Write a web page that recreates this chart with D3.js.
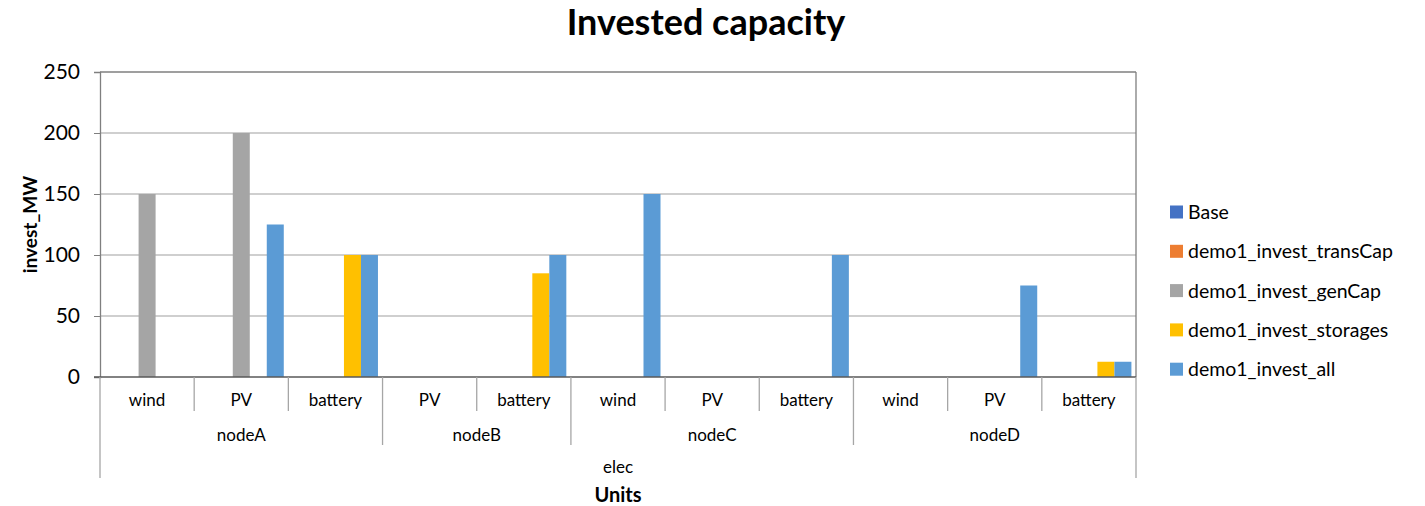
<!DOCTYPE html>
<html><head><meta charset="utf-8">
<script src="https://cdn.jsdelivr.net/npm/d3@7"></script>
<style>body{margin:0;background:#fff;} text{font-family:Lato,"Open Sans",sans-serif;fill:#000;}</style>
</head><body>
<svg id="c" width="1425" height="506"></svg>
<script>
const categories = ["wind","PV","battery","PV","battery","wind","PV","battery","wind","PV","battery"];
const nodes = [{name:"nodeA",count:3},{name:"nodeB",count:2},{name:"nodeC",count:3},{name:"nodeD",count:3}];
const topGroup = "elec";
const seriesNames = ["Base","demo1_invest_transCap","demo1_invest_genCap","demo1_invest_storages","demo1_invest_all"];
const colors = ["#4472c4","#ed7d31","#a5a5a5","#ffc000","#5b9bd5"];
const base      = [0,0,0,0,0,0,0,0,0,0,0];
const transCap  = [0,0,0,0,0,0,0,0,0,0,0];
const genCap    = [150,200,0,0,0,0,0,0,0,0,0];
const storages  = [0,0,100,0,85,0,0,0,0,0,12.5];
const investAll = [0,125,100,0,100,150,0,100,0,75,12.5];
const yTicks = [0,50,100,150,200,250];

const values = [base,transCap,genCap,storages,investAll];
const svg = d3.select("#c");
const L=100, R=1136, T=72, B=377;
const idx = d3.range(categories.length);
const x = d3.scaleBand().domain(idx).range([L,R]).padding(0);
const xs = d3.scaleBand().domain(d3.range(seriesNames.length)).range([0,x.bandwidth()]).paddingInner(0).paddingOuter(0.27);
const y = d3.scaleLinear().domain([0,250]).range([B,T]);

// gridlines
svg.append("g").selectAll("line").data(yTicks.filter(d=>d>0)).join("line")
  .attr("x1",L).attr("x2",R).attr("y1",d=>y(d)).attr("y2",d=>y(d))
  .attr("stroke",d=>d===250?"#7f7f7f":"#bfbfbf").attr("stroke-width",1.3);
// right border
svg.append("line").attr("x1",R).attr("x2",R).attr("y1",T).attr("y2",B).attr("stroke","#7f7f7f").attr("stroke-width",1.3);

// bars
values.forEach((vals,s)=>{
  svg.append("g").selectAll("rect").data(idx).join("rect")
    .attr("x",i=>x(i)+xs(s)).attr("width",xs.bandwidth())
    .attr("y",i=>y(vals[i])).attr("height",i=>B-y(vals[i]))
    .attr("fill",colors[s]);
});

// y axis
const ya = svg.append("g").attr("transform",`translate(${L},0)`)
  .call(d3.axisLeft(y).tickValues(yTicks).tickSize(6).tickPadding(14));
ya.select(".domain").attr("stroke","#7f7f7f").attr("stroke-width",1.3);
ya.selectAll(".tick line").attr("stroke","#7f7f7f");
ya.selectAll(".tick text").style("font-family","Lato,sans-serif").style("font-size","21px").attr("fill","#000");

// x axis line
svg.append("line").attr("x1",L-6).attr("x2",R).attr("y1",B).attr("y2",B).attr("stroke","#595959").attr("stroke-width",1.5);

// category boundaries
const bounds = d3.range(categories.length+1).map(i=> i<categories.length ? x(i) : R);
const nodeEnds = [0]; let acc=0; nodes.forEach(n=>{acc+=n.count; nodeEnds.push(acc);});
const g = svg.append("g").attr("stroke","#a6a6a6").attr("stroke-width",1.3);
bounds.forEach((bx,i)=>{
  let y2 = 411;
  if (nodeEnds.includes(i)) y2 = 445;
  if (i===0 || i===categories.length) y2 = 478;
  g.append("line").attr("x1",bx).attr("x2",bx).attr("y1",B).attr("y2",y2);
});
// category labels
svg.append("g").selectAll("text").data(idx).join("text")
  .attr("x",i=>x(i)+x.bandwidth()/2).attr("y",406).attr("text-anchor","middle")
  .style("font-size","17px").text(i=>categories[i]);
// node labels
svg.append("g").selectAll("text").data(nodes).join("text")
  .attr("x",(d,k)=>(bounds[nodeEnds[k]]+bounds[nodeEnds[k+1]])/2).attr("y",441).attr("text-anchor","middle")
  .style("font-size","17px").text(d=>d.name);
svg.append("text").attr("x",(L+R)/2).attr("y",473).attr("text-anchor","middle").style("font-size","17px").text(topGroup);

// axis titles
svg.append("text").attr("x",(L+R)/2).attr("y",502).attr("text-anchor","middle").style("font-size","20px").style("font-weight","bold").text("Units");
svg.append("text").attr("transform",`translate(37,${(T+B)/2}) rotate(-90)`).attr("text-anchor","middle").style("font-size","19px").style("font-weight","bold").text("invest_MW");

// title
svg.append("text").attr("x",706).attr("y",35).attr("text-anchor","middle").style("font-size","36px").style("font-weight","bold").text("Invested capacity");

// legend
const lg = svg.append("g").selectAll("g").data(seriesNames).join("g")
  .attr("transform",(d,i)=>`translate(1170,${212+i*39.3})`);
lg.append("rect").attr("x",0).attr("y",-6.5).attr("width",13).attr("height",13).attr("fill",(d,i)=>colors[i]);
lg.append("text").attr("x",18).attr("y",7).style("font-size","19.5px").text(d=>d);
</script>
</body></html>
